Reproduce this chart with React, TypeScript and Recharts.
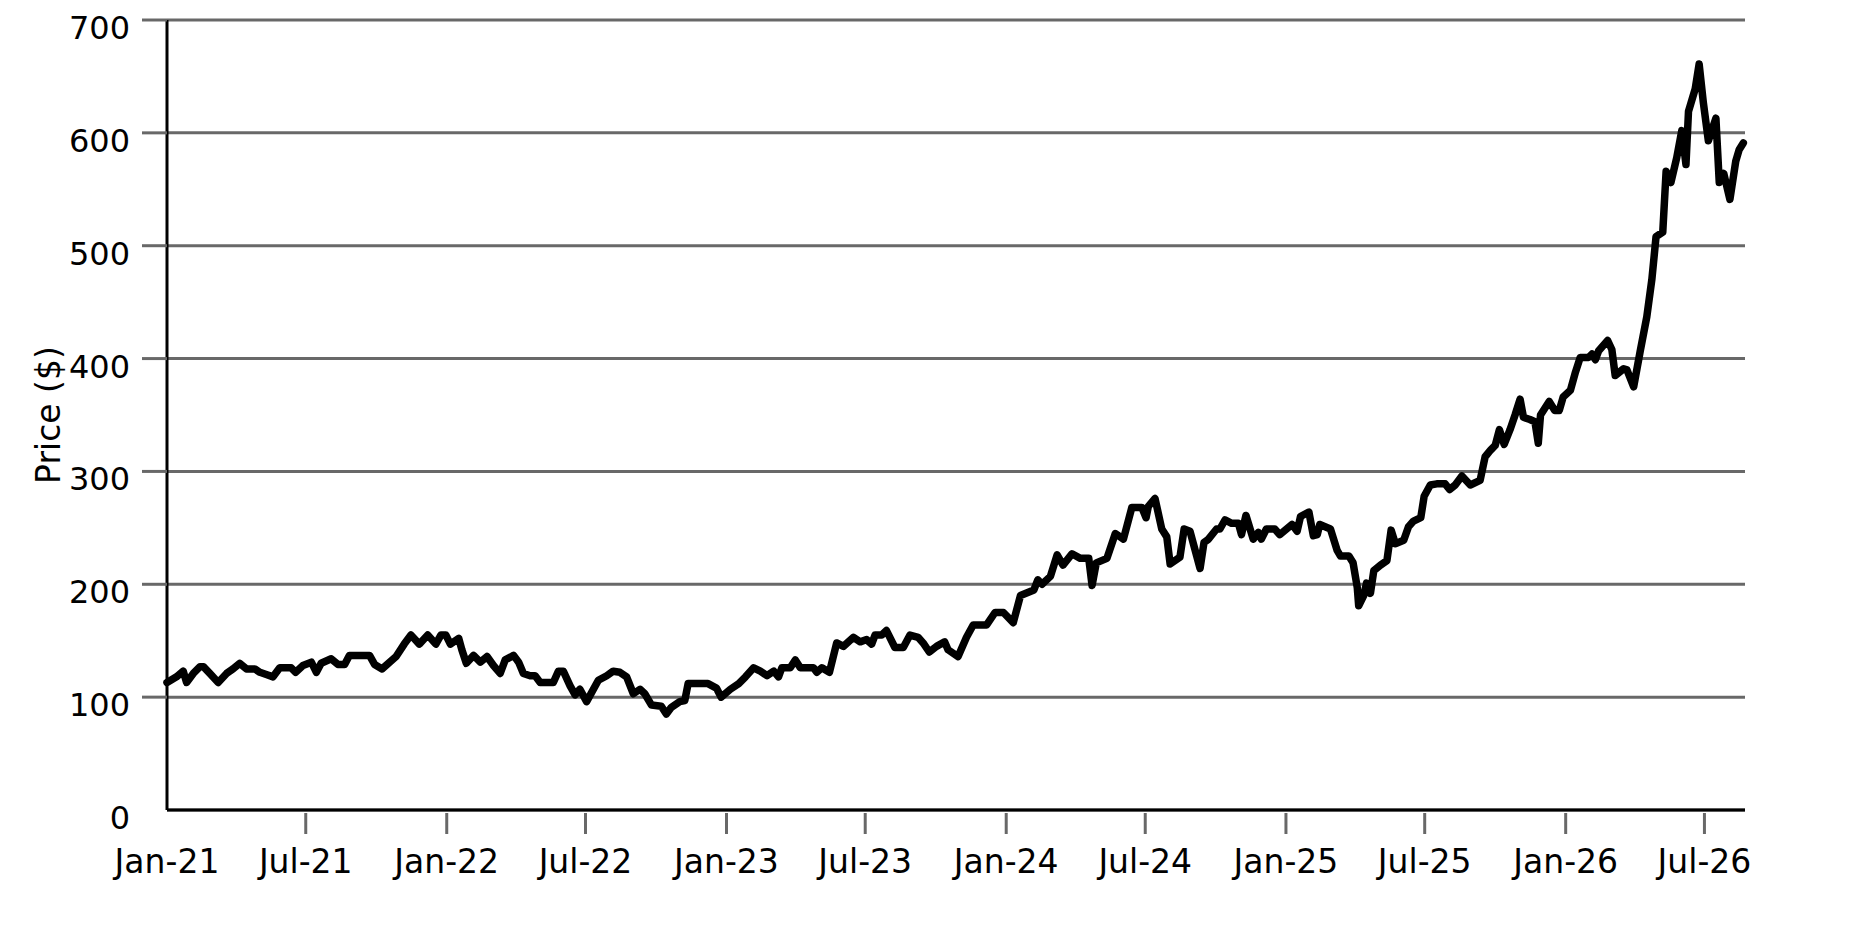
import React from 'react';
import { LineChart, Line, XAxis, YAxis, CartesianGrid } from 'recharts';

// Dates as decimal years (2021.0 = Jan 1, 2021)
const dates = [
  2021.000, 2021.034, 2021.058, 2021.070, 2021.094, 2021.118, 2021.130, 2021.153, 2021.183, 2021.213,
  2021.236, 2021.260, 2021.284, 2021.314, 2021.332, 2021.355, 2021.379, 2021.403, 2021.444, 2021.460,
  2021.486, 2021.516, 2021.534, 2021.551, 2021.587, 2021.611, 2021.635, 2021.652, 2021.724, 2021.742,
  2021.769, 2021.819, 2021.848, 2021.872, 2021.902, 2021.932, 2021.961, 2021.979, 2021.997,
  2022.013, 2022.043, 2022.054, 2022.070, 2022.096, 2022.120, 2022.144, 2022.167, 2022.191, 2022.209,
  2022.239, 2022.257, 2022.274, 2022.298, 2022.316, 2022.334, 2022.381, 2022.399, 2022.417, 2022.441,
  2022.459, 2022.476, 2022.500, 2022.542, 2022.572, 2022.595, 2022.619, 2022.643, 2022.667, 2022.691,
  2022.708, 2022.732, 2022.767, 2022.785, 2022.803, 2022.833, 2022.851, 2022.863, 2022.934, 2022.964,
  2022.981,
  2023.014, 2023.044, 2023.068, 2023.097, 2023.121, 2023.145, 2023.169, 2023.186, 2023.198, 2023.228,
  2023.246, 2023.264, 2023.311, 2023.323, 2023.341, 2023.368, 2023.394, 2023.418, 2023.454, 2023.478,
  2023.501, 2023.519, 2023.531, 2023.555, 2023.572, 2023.602, 2023.632, 2023.656, 2023.685, 2023.703,
  2023.725, 2023.751, 2023.780, 2023.792, 2023.828, 2023.858, 2023.882, 2023.930, 2023.960, 2023.990,
  2024.025, 2024.051, 2024.099, 2024.113, 2024.128, 2024.158, 2024.182, 2024.203, 2024.235, 2024.265,
  2024.295, 2024.307, 2024.322, 2024.360, 2024.390, 2024.419, 2024.449, 2024.485, 2024.500, 2024.508,
  2024.532, 2024.556, 2024.574, 2024.586, 2024.621, 2024.636, 2024.657, 2024.693, 2024.707, 2024.723,
  2024.752, 2024.764, 2024.782, 2024.806, 2024.830, 2024.841, 2024.857, 2024.883, 2024.901, 2024.912,
  2024.930, 2024.960, 2024.978,
  2025.022, 2025.040, 2025.052, 2025.082, 2025.098, 2025.112, 2025.121, 2025.159, 2025.183, 2025.195,
  2025.225, 2025.240, 2025.255, 2025.260, 2025.278, 2025.288, 2025.302, 2025.314, 2025.338, 2025.361,
  2025.376, 2025.391, 2025.421, 2025.438, 2025.456, 2025.482, 2025.494, 2025.516, 2025.539, 2025.569,
  2025.585, 2025.605, 2025.629, 2025.659, 2025.694, 2025.712, 2025.732, 2025.748, 2025.763, 2025.780,
  2025.801, 2025.819, 2025.837, 2025.849, 2025.872, 2025.890, 2025.902, 2025.910, 2025.941, 2025.961,
  2025.977, 2025.991,
  2026.017, 2026.035, 2026.052, 2026.082, 2026.094, 2026.106, 2026.118, 2026.150, 2026.165, 2026.177,
  2026.207, 2026.219, 2026.243, 2026.266, 2026.290, 2026.308, 2026.323, 2026.347, 2026.359, 2026.376,
  2026.397, 2026.415, 2026.430, 2026.439, 2026.463, 2026.477, 2026.492, 2026.510, 2026.537, 2026.549,
  2026.565, 2026.587, 2026.608, 2026.620, 2026.635,
];

// Price in dollars, one per date
const prices = [
  113, 118, 123, 113, 121, 127, 127, 121, 113, 121,
  125, 130, 125, 125, 122, 120, 118, 126, 126, 122,
  128, 131, 122, 130, 134, 129, 129, 137, 137, 129,
  125, 136, 147, 155, 147, 155, 147, 155, 155,
  147, 152, 142, 130, 137, 131, 136, 128, 121, 133,
  137, 131, 121, 119, 119, 113, 113, 123, 123, 110,
  102, 107, 96, 115, 119, 123, 122, 118, 103, 107,
  103, 93, 92, 85, 91, 96, 97, 112, 112, 108,
  100,
  107, 112, 118, 126, 123, 119, 123, 118, 126, 126,
  133, 126, 126, 122, 126, 122, 148, 145, 153, 149,
  151, 147, 155, 155, 159, 144, 144, 155, 153, 148,
  140, 145, 149, 142, 136, 153, 164, 164, 175, 175,
  166, 190, 195, 204, 200, 207, 226, 217, 227, 223,
  223, 199, 219, 223, 245, 240, 268, 268, 259, 269,
  276, 249, 242, 218, 224, 249, 247, 214, 237, 240,
  249, 249, 257, 254, 254, 244, 261, 240, 246, 240,
  249, 249, 244,
  253, 247, 260, 264, 243, 244, 253, 249, 230, 225,
  225, 219, 197, 181, 190, 201, 192, 212, 217, 221,
  248, 236, 239, 251, 256, 259, 278, 288, 289, 289,
  284, 288, 296, 288, 292, 313, 319, 323, 337, 324,
  337, 350, 364, 348, 346, 344, 325, 350, 362, 354,
  354, 366,
  372, 388, 401, 401, 404, 399, 407, 416, 408, 385,
  391, 390, 375, 406, 437, 470, 508, 512, 566, 556,
  578, 602, 572, 619, 639, 661, 627, 593, 613, 556,
  564, 541, 575, 585, 591,
];

const xTickValues = [
  2021, 2021.496, 2022, 2022.496, 2023, 2023.496,
  2024, 2024.497, 2025, 2025.496, 2026, 2026.496,
];
const xTickLabels = [
  'Jan-21', 'Jul-21', 'Jan-22', 'Jul-22', 'Jan-23', 'Jul-23',
  'Jan-24', 'Jul-24', 'Jan-25', 'Jul-25', 'Jan-26', 'Jul-26',
];
const yTickValues = [0, 100, 200, 300, 400, 500, 600, 700];
const yAxisTitle = 'Price ($)';

const data = dates.map((t, i) => ({ t, price: prices[i] }));

const FONT = '"DejaVu Sans", Verdana, sans-serif';
const GRID = '#686868';

const XTick = (props: any) => {
  const { x, y, payload } = props;
  let i = xTickValues.findIndex((v) => Math.abs(v - payload.value) < 1e-6);
  if (i < 0) i = props.index ?? 0;
  return (
    <g>
      {i > 0 && (
        <line x1={x} x2={x} y1={y + 3} y2={y + 24} stroke={GRID} strokeWidth={3} />
      )}
      <text x={x} y={y + 63} textAnchor="middle" fontSize={33} fontFamily={FONT} fill="#000">
        {xTickLabels[i]}
      </text>
    </g>
  );
};

const YTick = (props: any) => {
  const { x, y, payload } = props;
  return (
    <g>
      {payload.value !== 0 && (
        <line x1={x - 25} x2={x} y1={y} y2={y} stroke={GRID} strokeWidth={3} />
      )}
      <text x={x - 37} y={y + 19} textAnchor="end" fontSize={32} fontFamily={FONT} fill="#000">
        {payload.value}
      </text>
    </g>
  );
};

const YTitle = (props: any) => {
  const vb = props.viewBox || { y: 20, height: 790 };
  const cx = 48;
  const cy = vb.y + vb.height / 2;
  return (
    <text
      x={cx}
      y={cy}
      transform={`rotate(-90, ${cx}, ${cy})`}
      textAnchor="middle"
      dominantBaseline="central"
      fontSize={33}
      fontFamily={FONT}
      fill="#000"
    >
      {yAxisTitle}
    </text>
  );
};

export default function App() {
  return (
    <div style={{ position: 'absolute', left: 0, top: 0, width: 1875, height: 938, background: '#fff' }}>
      <LineChart
        width={1875}
        height={938}
        data={data}
        margin={{ top: 20, right: 130, bottom: 0, left: 0 }}
      >
        <CartesianGrid vertical={false} stroke={GRID} strokeWidth={3} />
        <XAxis
          dataKey="t"
          type="number"
          domain={[2021, 2026.641]}
          ticks={xTickValues}
          interval={0}
          height={128}
          tickLine={false}
          tickSize={0}
          tickMargin={0}
          axisLine={{ stroke: '#000', strokeWidth: 3 }}
          tick={<XTick />}
        />
        <YAxis
          type="number"
          domain={[0, 700]}
          ticks={yTickValues}
          interval={0}
          width={167}
          tickLine={false}
          tickSize={0}
          tickMargin={0}
          axisLine={{ stroke: '#000', strokeWidth: 3 }}
          tick={<YTick />}
          label={<YTitle />}
        />
        <Line
          type="linear"
          dataKey="price"
          stroke="#000"
          strokeWidth={7.5}
          strokeLinejoin="round"
          strokeLinecap="round"
          dot={false}
          isAnimationActive={false}
        />
      </LineChart>
    </div>
  );
}
